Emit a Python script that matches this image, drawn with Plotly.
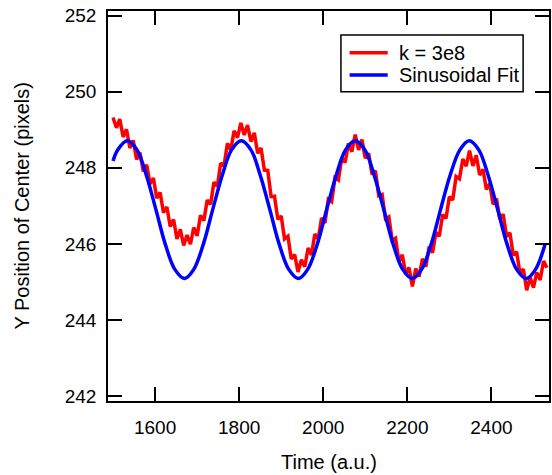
import plotly.graph_objects as go

# ---- data ----
red_x = [1500, 1508, 1516, 1524, 1532, 1540, 1548, 1556, 1564, 1572,
         1580, 1588, 1596, 1604, 1612, 1620, 1628, 1636, 1644, 1652,
         1660, 1668, 1676, 1684, 1692, 1700, 1708, 1716, 1724, 1732,
         1740, 1748, 1756, 1764, 1772, 1780, 1788, 1796, 1804, 1812,
         1820, 1828, 1836, 1844, 1852, 1860, 1868, 1876, 1884, 1892,
         1900, 1908, 1916, 1924, 1932, 1940, 1948, 1956, 1964, 1972,
         1980, 1988, 1996, 2004, 2012, 2020, 2028, 2036, 2044, 2052,
         2060, 2068, 2076, 2084, 2092, 2100, 2108, 2116, 2124, 2132,
         2140, 2148, 2156, 2164, 2172, 2180, 2188, 2196, 2204, 2212,
         2220, 2228, 2236, 2244, 2252, 2260, 2268, 2276, 2284, 2292,
         2300, 2308, 2316, 2324, 2332, 2340, 2348, 2356, 2364, 2372,
         2380, 2388, 2396, 2404, 2412, 2420, 2428, 2436, 2444, 2452,
         2460, 2468, 2476, 2484, 2492, 2500, 2508, 2516, 2524, 2532]
red_y = [249.32, 249.05, 249.28, 248.81, 249.01, 248.52, 248.72, 248.22, 248.40, 247.90,
         248.08, 247.58, 247.73, 247.20, 247.35, 246.82, 246.97, 246.46, 246.64, 246.13,
         246.38, 245.96, 246.23, 245.99, 246.43, 246.21, 246.75, 246.61, 247.15, 247.04,
         247.62, 247.51, 248.12, 248.05, 248.64, 248.47, 248.97, 248.79, 249.18, 248.86,
         249.12, 248.69, 248.92, 248.38, 248.52, 247.94, 247.93, 247.24, 247.25, 246.65,
         246.73, 246.13, 246.20, 245.60, 245.72, 245.26, 245.58, 245.40, 245.89, 245.71,
         246.26, 246.13, 246.68, 246.55, 247.17, 247.11, 247.74, 247.68, 248.25, 248.14,
         248.64, 248.42, 248.87, 248.47, 248.74, 248.25, 248.38, 247.83, 247.92, 247.27,
         247.30, 246.66, 246.71, 246.09, 246.15, 245.53, 245.71, 245.21, 245.38, 244.88,
         245.35, 245.14, 245.61, 245.40, 245.93, 245.77, 246.30, 246.20, 246.77, 246.67,
         247.24, 247.15, 247.77, 247.71, 248.23, 248.04, 248.45, 248.05, 248.33, 247.81,
         247.96, 247.43, 247.58, 247.04, 247.19, 246.65, 246.78, 246.19, 246.29, 245.70,
         245.79, 245.22, 245.34, 244.78, 245.12, 244.85, 245.25, 245.05, 245.55, 245.37]

fit_x = [1500, 1511, 1534, 1557, 1579, 1602, 1624, 1647, 1670, 1692,
         1715, 1737, 1760, 1782, 1805, 1828, 1850, 1873, 1895, 1918,
         1941, 1963, 1986, 2008, 2031, 2053, 2076, 2099, 2121, 2144,
         2166, 2189, 2212, 2234, 2257, 2279, 2302, 2325, 2347, 2370,
         2392, 2415, 2437, 2460, 2483, 2505, 2528]
fit_y = [248.18, 248.47, 248.71, 248.47, 247.81, 246.90, 246.00, 245.33, 245.09, 245.33,
         246.00, 246.90, 247.81, 248.47, 248.71, 248.47, 247.81, 246.90, 246.00, 245.33,
         245.09, 245.33, 246.00, 246.90, 247.81, 248.47, 248.71, 248.47, 247.81, 246.90,
         246.00, 245.33, 245.09, 245.33, 246.00, 246.90, 247.81, 248.47, 248.71, 248.47,
         247.81, 246.90, 246.00, 245.33, 245.09, 245.33, 246.00]

x_ticks = [1600, 1800, 2000, 2200, 2400]
y_ticks = [242, 244, 246, 248, 250, 252]

series_names = ["k = 3e8", "Sinusoidal Fit"]
series_colors = ["#FF0000", "#0000FF"]

FONT = "Liberation Sans, Arial, sans-serif"

fig = go.Figure()
fig.add_trace(go.Scatter(x=red_x, y=red_y, mode="lines", name=series_names[0],
                         line=dict(color=series_colors[0], width=3.5)))
fig.add_trace(go.Scatter(x=fit_x, y=fit_y, mode="lines", name=series_names[1],
                         line=dict(color=series_colors[1], width=3.5, shape="spline")))

axis_common = dict(showline=True, linecolor="black", linewidth=1.5, mirror="ticks",
                   ticks="inside", ticklen=14, tickwidth=1.5, tickcolor="black",
                   showgrid=False, zeroline=False,
                   tickfont=dict(family=FONT, size=19, color="black"))

# custom legend (box, sample lines, labels) in paper coordinates
shapes = [
    dict(type="rect", xref="paper", yref="paper", x0=0.5282, x1=0.9413, y0=0.7931, y1=0.9385,
         line=dict(color="black", width=1.5), fillcolor="white", layer="above"),
]
annotations = [
    dict(text="Time (a.u.)", xref="paper", yref="paper", x=0.5, y=-0.156,
         xanchor="center", yanchor="middle", showarrow=False,
         font=dict(family=FONT, size=20, color="black")),
    dict(text="Y Position of Center (pixels)", xref="paper", yref="paper",
         x=-0.196, y=0.5, xanchor="center", yanchor="middle", textangle=-90,
         showarrow=False, font=dict(family=FONT, size=20, color="black")),
]
legend_rows_y = [0.8931, 0.8359]
for name, color, ly in zip(series_names, series_colors, legend_rows_y):
    shapes.append(dict(type="line", xref="paper", yref="paper", x0=0.5479, x1=0.6343,
                       y0=ly, y1=ly, line=dict(color=color, width=3.5), layer="above"))
    annotations.append(dict(text=name, xref="paper", yref="paper", x=0.6546, y=ly,
                            xanchor="left", yanchor="middle", showarrow=False,
                            font=dict(family=FONT, size=20, color="black")))

fig.update_layout(
    width=552, height=475,
    margin=dict(l=108, r=1, t=11, b=74),
    paper_bgcolor="white", plot_bgcolor="white",
    font=dict(family=FONT, size=19, color="black"),
    xaxis=dict(range=[1488, 2537], tickvals=x_ticks, ticklabelstandoff=8, **axis_common),
    yaxis=dict(range=[241.87, 252.12], tickvals=y_ticks, ticklabelstandoff=6, **axis_common),
    showlegend=False,
    shapes=shapes,
    annotations=annotations,
)

fig.write_html("out.html", config={"displayModeBar": False},
               post_script="document.body.style.margin='0';")
